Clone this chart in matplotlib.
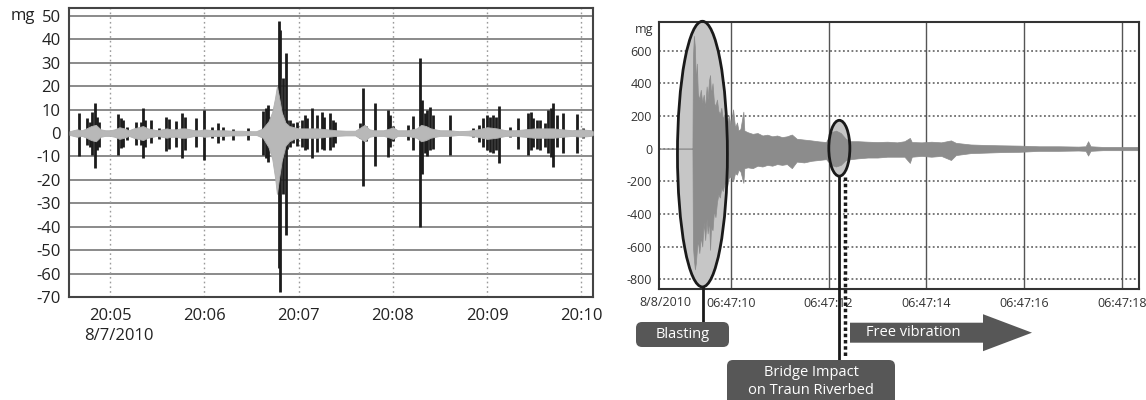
import matplotlib
matplotlib.use("Agg")
import matplotlib.pyplot as plt
from matplotlib.patches import Ellipse, FancyBboxPatch, FancyArrow
from matplotlib.lines import Line2D

plt.rcParams['font.family'] = ['Open Sans', 'DejaVu Sans']

# ---------- left panel data (minutes after 20:00, mg) ----------
spike_t = [4.671, 4.759, 4.784, 4.812, 4.838, 4.859, 4.883, 5.088, 5.113, 5.138,
           5.180, 5.273, 5.326, 5.350, 5.371, 5.432, 5.520, 5.591, 5.626, 5.697,
           5.766, 5.795, 5.909, 5.997, 6.078, 6.148, 6.201, 6.307, 6.467, 6.626,
           6.651, 6.672, 6.697, 6.789, 6.803, 6.838, 6.863, 6.880, 6.909, 6.937,
           6.986, 7.033, 7.068, 7.093, 7.139, 7.192, 7.244, 7.269, 7.333, 7.368,
           7.386, 7.651, 7.686, 7.715, 7.810, 7.951, 7.969, 8.001, 8.163, 8.216,
           8.287, 8.305, 8.340, 8.358, 8.393, 8.421, 8.605, 8.849, 8.913, 8.959,
           8.995, 9.030, 9.065, 9.093, 9.128, 9.242, 9.330, 9.436, 9.461, 9.489,
           9.525, 9.560, 9.613, 9.648, 9.674, 9.701, 9.737, 9.807, 9.955, 10.016]
spike_up = [8.7, 6.3, 4.8, 9.1, 13.0, 7.0, 4.8, 8.1, 6.3, 5.5,
            2.7, 4.8, 4.6, 10.5, 5.5, 5.5, 2.0, 7.0, 5.8, 5.3,
            8.7, 7.0, 6.3, 9.8, 2.4, 4.1, 2.4, 1.6, 2.0, 9.3,
            10.7, 12.0, 7.0, 48.0, 44.0, 23.4, 34.0, 5.5, 5.5, 4.1,
            4.8, 5.5, 7.7, 6.3, 10.5, 7.7, 9.1, 7.0, 8.5, 5.5,
            4.8, 4.1, 19.1, 3.0, 13.0, 9.8, 7.7, 3.0, 3.4, 7.3,
            32.2, 14.1, 8.5, 9.8, 11.3, 7.7, 7.7, 2.0, 3.4, 6.3,
            7.7, 7.0, 7.7, 7.0, 11.4, 2.4, 6.3, 8.5, 9.1, 6.3,
            5.5, 5.5, 4.1, 9.8, 10.5, 13.0, 7.7, 8.5, 8.3, 2.0]
spike_dn = [-9.8, -5.1, -5.8, -9.5, -14.8, -7.3, -5.8, -9.4, -6.5, -5.8,
            -3.0, -5.1, -5.1, -10.8, -5.8, -4.4, -2.7, -7.7, -6.6, -5.8,
            -10.8, -7.3, -5.8, -11.5, -2.3, -4.4, -3.0, -3.0, -3.0, -9.4,
            -10.8, -12.2, -7.3, -57.7, -67.8, -25.9, -43.6, -6.6, -5.8, -4.4,
            -5.6, -5.8, -7.3, -6.6, -10.8, -8.0, -6.6, -7.3, -7.3, -5.8,
            -4.4, -2.3, -22.8, -3.5, -14.2, -10.4, -5.8, -3.5, -3.0, -7.3,
            -40.0, -17.4, -8.7, -10.0, -7.3, -6.6, -9.4, -1.6, -3.7, -5.8,
            -7.3, -8.0, -8.7, -7.3, -12.8, -1.6, -6.6, -9.4, -7.3, -5.8,
            -6.6, -7.3, -5.8, -8.7, -10.1, -14.4, -5.8, -8.7, -8.7, -2.0]

noise_t = [4.57, 4.65, 4.70, 4.75, 4.80, 4.85, 4.90, 4.95, 5.00, 5.05, 5.10, 5.15,
           5.20, 5.25, 5.30, 5.35, 5.40, 5.45, 5.50, 5.55, 5.60, 5.65, 5.70, 5.75,
           5.80, 5.85, 5.90, 5.95, 6.00, 6.10, 6.20, 6.30, 6.40, 6.50, 6.55, 6.62,
           6.68, 6.72, 6.75, 6.77, 6.79, 6.82, 6.86, 6.90, 6.95, 7.00, 7.10, 7.20,
           7.30, 7.40, 7.50, 7.60, 7.66, 7.70, 7.75, 7.80, 7.90, 7.97, 8.00, 8.05,
           8.15, 8.25, 8.30, 8.35, 8.40, 8.50, 8.60, 8.70, 8.80, 8.90, 9.00, 9.10,
           9.20, 9.30, 9.40, 9.50, 9.60, 9.70, 9.80, 9.90, 10.00, 10.10, 10.12]
noise_up = [0.8, 1.6, 1.2, 2.0, 3.0, 3.5, 1.6, 1.2, 1.2, 1.6, 2.5, 2.0,
            1.2, 2.0, 2.5, 3.0, 2.0, 1.6, 1.2, 1.6, 2.0, 1.6, 1.6, 2.0,
            2.0, 1.6, 1.2, 1.2, 1.6, 1.2, 1.2, 1.0, 1.0, 0.8, 0.8, 2.0,
            5.0, 9.0, 15.0, 20.0, 16.0, 9.0, 4.5, 3.0, 2.5, 2.0, 2.0, 2.0,
            1.6, 1.2, 1.0, 1.0, 2.5, 3.5, 1.6, 1.2, 1.2, 2.0, 2.5, 1.2,
            1.2, 2.0, 3.5, 3.0, 2.0, 1.2, 1.2, 0.8, 1.0, 1.6, 2.5, 2.0,
            1.2, 1.2, 1.6, 2.0, 2.0, 2.0, 1.6, 1.2, 1.6, 1.2, 0.8]
noise_dn = [-0.8, -1.6, -1.2, -2.0, -3.0, -3.5, -1.6, -1.2, -1.2, -1.6, -2.5, -2.0,
            -1.2, -2.0, -2.5, -3.0, -2.0, -1.6, -1.2, -1.6, -2.0, -1.6, -1.6, -2.0,
            -2.0, -1.6, -1.2, -1.2, -1.6, -1.2, -1.2, -1.0, -1.0, -0.8, -0.8, -2.0,
            -6.0, -11.0, -19.0, -26.0, -20.0, -12.0, -5.5, -3.5, -2.5, -2.0, -2.0, -2.0,
            -1.6, -1.2, -1.0, -1.0, -2.5, -3.5, -1.6, -1.2, -1.2, -2.0, -2.5, -1.2,
            -1.2, -2.0, -3.5, -3.0, -2.0, -1.2, -1.2, -0.8, -1.0, -1.6, -2.5, -2.0,
            -1.2, -1.2, -1.6, -2.0, -2.0, -2.0, -1.6, -1.2, -1.6, -1.2, -0.8]

left_ticks = [5, 6, 7, 8, 9, 10]
left_labels = ['20:05', '20:06', '20:07', '20:08', '20:09', '20:10']
left_yticks = list(range(-70, 51, 10))

# ---------- right panel data (seconds after 06:47:00, mg) ----------
env_t = [8.54, 9.22, 9.23, 9.25, 9.27, 9.29, 9.31, 9.33, 9.36, 9.39, 9.42, 9.45,
         9.48, 9.51, 9.53, 9.56, 9.58, 9.60, 9.63, 9.66, 9.69, 9.72, 9.75, 9.78,
         9.81, 9.84, 9.87, 9.90, 9.93, 9.96, 10.00, 10.05, 10.09, 10.13, 10.16, 10.20,
         10.26, 10.28, 10.35, 10.45, 10.55, 10.65, 10.75, 10.85, 10.95, 11.05, 11.15, 11.25,
         11.35, 11.50, 11.65, 11.80, 11.95, 12.05, 12.15, 12.25, 12.35, 12.45, 12.60, 12.80,
         13.00, 13.20, 13.40, 13.55, 13.66, 13.70, 13.90, 14.10, 14.30, 14.50, 14.60, 14.90,
         15.20, 15.50, 15.90, 16.30, 16.70, 17.10, 17.25, 17.30, 17.35, 17.60, 18.00, 18.34]
env_up = [0, 0, 560, 690, 620, 400, 520, 340, 300, 360, 280, 330,
          250, 380, 300, 420, 450, 330, 400, 280, 260, 300, 230, 210,
          250, 180, 210, 170, 160, 200, 150, 240, 130, 160, 110, 120,
          226, 110, 100, 90, 95, 80, 85, 75, 80, 70, 75, 86,
          60, 55, 50, 44, 40, 100, 110, 95, 60, 45, 45, 42,
          40, 42, 38, 45, 65, 40, 38, 42, 38, 50, 35, 25,
          22, 20, 18, 14, 14, 12, 14, 45, 14, 10, 10, 10]
env_dn = [0, 0, -600, -680, -740, -700, -620, -560, -640, -540, -600, -450,
          -560, -430, -520, -440, -620, -480, -500, -380, -420, -330, -280, -300,
          -240, -260, -220, -200, -230, -180, -170, -200, -150, -160, -130, -140,
          -210, -120, -115, -120, -105, -110, -100, -105, -95, -100, -95, -120,
          -80, -85, -75, -70, -65, -100, -110, -100, -70, -65, -60, -55,
          -55, -50, -50, -50, -88, -50, -45, -50, -45, -70, -40, -28,
          -25, -22, -20, -14, -14, -12, -14, -43, -14, -10, -10, -10]

right_ticks = [10, 12, 14, 16, 18]
right_labels = ['06:47:10', '06:47:12', '06:47:14', '06:47:16', '06:47:18']
right_yticks = [-800, -600, -400, -200, 0, 200, 400, 600]

W, H = 1146, 400
fig = plt.figure(figsize=(W / 100, H / 100), dpi=100)


def fx(x):
    return x / W


def fy(y):
    return 1 - y / H


# ================= left chart =================
ax1 = fig.add_axes([fx(69), fy(297), fx(593 - 69), (297 - 8) / H])
ax1.set_xlim(4.565, 10.122)
ax1.set_ylim(-70, 53.4)
for v in left_yticks[1:]:
    ax1.axhline(v, color='#8a8a8a', lw=1.4, zorder=0.5)
for t in left_ticks:
    ax1.axvline(t, color='#9a9a9a', lw=1.0, ls=(0, (1.2, 2.2)), zorder=0.5)
ax1.vlines(spike_t, spike_dn, spike_up, color='#1c1c1c', lw=2.0, zorder=2)
ax1.fill_between(noise_t, noise_dn, noise_up, color='#b8b8b8', lw=0.6,
                 edgecolor='#b0b0b0', zorder=3)
ax1.axhline(0, color='#9a9a9a', lw=0.8, zorder=2.5)
ax1.set_xticks(left_ticks)
ax1.set_xticklabels(left_labels, fontsize=12, color='#222222')
ax1.set_yticks(left_yticks)
ax1.set_yticklabels([str(v) for v in left_yticks], fontsize=12, color='#222222')
ax1.tick_params(length=0, pad=6)
ax1.tick_params(axis='x', pad=8)
for s in ax1.spines.values():
    s.set_color('#444444')
    s.set_linewidth(1.5)
fig.text(fx(35), fy(16), 'mg', ha='right', va='center', fontsize=12, color='#222222')
fig.text(fx(84), fy(336), '8/7/2010', ha='left', va='center', fontsize=12,
         color='#222222')

# ================= right chart =================
ax2 = fig.add_axes([fx(659), fy(289), fx(1139 - 659), (289 - 22) / H])
ax2.set_xlim(8.537, 18.34)
ax2.set_ylim(-860, 775)
for v in right_yticks:
    ax2.axhline(v, color='#555555', lw=1.1, ls=(0, (1.2, 1.6)), zorder=0.5)
for t in right_ticks:
    ax2.axvline(t, color='#555555', lw=1.0, zorder=0.5)

# blasting ellipse (fill below signal, outline on top)
ax2.add_patch(Ellipse((9.424, -34), 1.02, 1627, fc='#c6c6c6', ec='none',
                      zorder=1, clip_on=False))
ax2.add_patch(Ellipse((12.22, 2), 0.43, 342, fc='#c6c6c6', ec='none',
                      zorder=1, clip_on=False))
ax2.fill_between(env_t, env_dn, env_up, color='#8c8c8c', lw=0.5,
                 edgecolor='#8c8c8c', zorder=2)
ax2.add_patch(Ellipse((9.424, -34), 1.02, 1627, fc='none', ec='#1a1a1a', lw=2.0,
                      zorder=4, clip_on=False))
ax2.add_patch(Ellipse((12.22, 2), 0.43, 342, fc='none', ec='#1a1a1a', lw=2.0,
                      zorder=4, clip_on=False))

ax2.set_xticks(right_ticks)
ax2.set_xticklabels(right_labels, fontsize=9, color='#333333')
ax2.set_yticks(right_yticks)
ax2.set_yticklabels([str(v) for v in right_yticks], fontsize=9, color='#333333')
ax2.tick_params(length=0, pad=5)
ax2.tick_params(axis='x', pad=6)
for s in ax2.spines.values():
    s.set_color('#333333')
    s.set_linewidth(1.5)
fig.text(fx(653), fy(30), 'mg', ha='right', va='center', fontsize=9, color='#333333')
fig.text(fx(665), fy(303), '8/8/2010', ha='center', va='center', fontsize=9,
         color='#333333')

# ---------- annotation boxes ----------
box_col = '#575757'
asp = W / H


def box(x0, y0, x1, y1):
    p = FancyBboxPatch((fx(x0), fy(y1)), fx(x1 - x0), (y1 - y0) / H,
                       boxstyle='round,pad=0,rounding_size=%f' % fx(6),
                       mutation_aspect=asp, transform=fig.transFigure,
                       fc=box_col, ec='none', zorder=5)
    fig.patches.append(p)


# blasting
fig.lines.append(Line2D([fx(702.7)] * 2, [fy(287), fy(322)], transform=fig.transFigure,
                        color='#1a1a1a', lw=2.0))
box(636, 322, 729, 347)
fig.text(fx(682.5), fy(334.5), 'Blasting', ha='center', va='center', fontsize=10.5,
         color='white', zorder=6)

# bridge impact
fig.lines.append(Line2D([fx(839.3)] * 2, [fy(177), fy(360)], transform=fig.transFigure,
                        color='#1a1a1a', lw=2.0))
fig.lines.append(Line2D([fx(845.3)] * 2, [fy(177), fy(357)], transform=fig.transFigure,
                        color='#1a1a1a', lw=2.5, ls=(0, (1.0, 0.8))))
box(727, 360, 895, 406)
fig.text(fx(811), fy(372), 'Bridge Impact', ha='center', va='center', fontsize=10.5,
         color='white', zorder=6)
fig.text(fx(811), fy(390), 'on Traun Riverbed', ha='center', va='center', fontsize=10.5,
         color='white', zorder=6)

# free vibration arrow
fig.patches.append(FancyArrow(fx(850), fy(332.7), fx(1032 - 850), 0,
                              width=20 / H, head_width=37 / H, head_length=fx(49),
                              length_includes_head=True, transform=fig.transFigure,
                              fc=box_col, ec='none', zorder=5))
fig.text(fx(913), fy(332), 'Free vibration', ha='center', va='center', fontsize=10.5,
         color='white', zorder=6)

fig.savefig('out.png', dpi=100)
